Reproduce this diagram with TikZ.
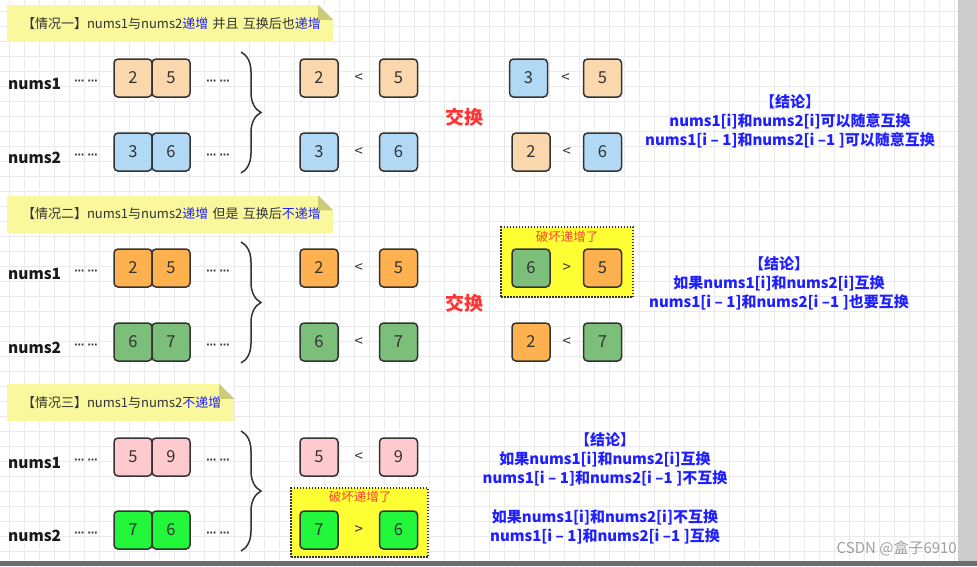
\documentclass[tikz,border=0pt]{standalone}
\usepackage{fontspec}
\setmainfont{Noto Sans CJK SC}
\newfontfamily\dotfont{DejaVu Sans}
\usepackage{xcolor}
\usetikzlibrary{positioning,calc,decorations.pathreplacing}

\definecolor{ink}{HTML}{333333}
\definecolor{gridline}{HTML}{EAEAEA}
\definecolor{notefill}{HTML}{F9F89D}
\definecolor{notefold}{HTML}{CCCB78}
\definecolor{hiyellow}{HTML}{FFFF33}
\definecolor{peach}{HTML}{FAD7AC}
\definecolor{skyblue}{HTML}{B1D9F5}
\definecolor{deeporange}{HTML}{FFB14F}
\definecolor{leaf}{HTML}{7BBF7B}
\definecolor{rose}{HTML}{FFCACD}
\definecolor{neon}{HTML}{22F73C}
\definecolor{txtblue}{HTML}{1F1FFF}
\definecolor{txtred}{HTML}{FF3333}
\definecolor{brokenred}{HTML}{FF4530}

\begin{document}
\begin{tikzpicture}[x=1pt, y=-1pt,
    numbox/.style={rectangle, draw=ink, line width=1.5pt, rounded corners=4pt, minimum width=38pt, minimum height=38pt, inner sep=0pt, text=ink, font=\fontsize{16.5}{18}\selectfont},
    arrname/.style={anchor=west, inner sep=0pt, text=black!90, font=\fontsize{15.5}{18}\selectfont\bfseries},
    dots/.style={inner sep=0pt, text=ink, font=\dotfont\fontsize{10}{12}\selectfont\bfseries},
    cmp/.style={inner sep=0pt, text=ink, font=\fontsize{15}{16}\selectfont},
    note/.style={fill=notefill, text width=296pt, inner xsep=15pt, minimum height=37pt, align=left, text=ink, font=\fontsize{13}{15}\selectfont},
    swap/.style={text=txtred, font=\fontsize{19}{22}\selectfont\bfseries},
    verdict/.style={align=center, text=txtblue, font=\fontsize{15}{19}\selectfont\bfseries},
    broken/.style={inner sep=0pt, text=brokenred, font=\fontsize{12.5}{14}\selectfont},
    hilite/.style={rectangle, fill=hiyellow, draw=ink, line width=1.5pt, dash pattern=on 1.5pt off 1.5pt}]

    \useasboundingbox (0,0) rectangle (977,566);
    \fill[white] (0,0) rectangle (977,566);
    \foreach \gx in {9,24,...,954} \draw[gridline, line width=0.8pt] (\gx,0) -- (\gx,561);
    \foreach \gy in {11,26,...,556} \draw[gridline, line width=0.8pt] (0,\gy) -- (958,\gy);
    \fill[gray!40] (958,0) rectangle (977,566);
    \fill[gray!85!black] (0,561) rectangle (977,566);

    \node (note1) [note] at (170,23.5) {【情况一】nums1与nums2\textcolor{txtblue}{递增}~并且~互换后也\textcolor{txtblue}{递增}};
    \node (note2) [note] at (170,214) {【情况二】nums1与nums2\textcolor{txtblue}{递增}~但是~互换后\textcolor{txtblue}{不递增}};
    \node (note3) [note, text width=197pt] at (120.5,402.5) {【情况三】nums1与nums2\textcolor{txtblue}{不递增}};
    \foreach \n in {note1,note2,note3} {
        \fill[white] (\n.north east) -- ++(-15,0) -- ++(15,15) -- cycle;
        \fill[notefold] ([xshift=-15pt]\n.north east) -- ++(0,15) -- ++(15,0) -- cycle;
    }

    \node (hilite2) [hilite, minimum width=132pt, minimum height=70pt] at (567,262) {};
    \node (hilite3) [hilite, minimum width=137pt, minimum height=69pt] at (359.5,522.5) {};

    \foreach \m/\ya/\yb/\fa/\fb/\va/\vb/\vc/\vd/\cb in {1/78/152/peach/skyblue/2/5/3/6/<, 2/268/342/deeporange/leaf/2/5/6/7/<, 3/457/530/rose/neon/5/9/7/6/>} {
        \node (label\m1) [arrname] at (8,\ya+6) {nums1};
        \node (label\m2) [arrname] at (8,\yb+6) {nums2};
        \node (left\m1a) [numbox, fill=\fa] at (133,\ya) {\va};
        \node (left\m1b) [numbox, fill=\fa, right=-1.5pt of left\m1a] {\vb};
        \node (left\m2a) [numbox, fill=\fb] at (133,\yb) {\vc};
        \node (left\m2b) [numbox, fill=\fb, right=-1.5pt of left\m2a] {\vd};
        \node (dots\m1l) [dots] at (86,\ya+4) {⋯ ⋯};
        \node (dots\m1r) [dots] at (218,\ya+4) {⋯ ⋯};
        \node (dots\m2l) [dots] at (86,\yb+4) {⋯ ⋯};
        \node (dots\m2r) [dots] at (218,\yb+4) {⋯ ⋯};
        \coordinate (brace\m t) at (241,\ya-26);
        \coordinate (brace\m b) at (241,\yb+21);
        \draw[ink, line width=1.5pt, decorate, decoration={brace, amplitude=20pt}] (brace\m t) -- (brace\m b);
        \node (cmp\m1a) [numbox, fill=\fa] at (319,\ya) {\va};
        \node (cmp\m1b) [numbox, fill=\fa, right=40pt of cmp\m1a] {\vb};
        \node (sym\m1) [cmp] at ($(cmp\m1a)!0.5!(cmp\m1b)$) {<};
        \node (cmp\m2a) [numbox, fill=\fb] at (319,\yb) {\vc};
        \node (cmp\m2b) [numbox, fill=\fb, right=40pt of cmp\m2a] {\vd};
        \node (sym\m2) [cmp] at ($(cmp\m2a)!0.5!(cmp\m2b)$) {\cb};
    }

    \node (swap1) [swap] at (464,117) {交换};
    \node (sw11a) [numbox, fill=skyblue] at (528.5,78) {3};
    \node (sw11b) [numbox, fill=peach] at (602.5,78) {5};
    \node (swsym11) [cmp] at ($(sw11a)!0.5!(sw11b)$) {<};
    \node (sw12a) [numbox, fill=peach] at (531,152) {2};
    \node (sw12b) [numbox, fill=skyblue] at (602.5,152) {6};
    \node (swsym12) [cmp] at ($(sw12a)!0.5!(sw12b)$) {<};

    \node (swap2) [swap] at (464,303) {交换};
    \node (broken2) [broken] at (567,237) {破坏递增了};
    \node (sw21a) [numbox, fill=leaf] at (531,268) {6};
    \node (sw21b) [numbox, fill=deeporange] at (602.5,268) {5};
    \node (swsym21) [cmp] at ($(sw21a)!0.5!(sw21b)$) {>};
    \node (sw22a) [numbox, fill=deeporange] at (531,342) {2};
    \node (sw22b) [numbox, fill=leaf] at (602.5,342) {7};
    \node (swsym22) [cmp] at ($(sw22a)!0.5!(sw22b)$) {<};

    \node (broken3) [broken] at (360,497) {破坏递增了};

    \node (verdict1) [verdict] at (790,121) {【结论】\\nums1[i]和nums2[i]可以随意互换\\nums1[i – 1]和nums2[i –1 ]可以随意互换};
    \node (verdict2) [verdict] at (779,283) {【结论】\\如果nums1[i]和nums2[i]互换\\nums1[i – 1]和nums2[i –1 ]也要互换};
    \node (verdict3) [verdict] at (605,488.5) {【结论】\\如果nums1[i]和nums2[i]互换\\nums1[i – 1]和nums2[i –1 ]不互换\\[20pt]如果nums1[i]和nums2[i]不互换\\nums1[i – 1]和nums2[i –1 ]互换};

    \node (mark) [anchor=east, inner sep=0pt, text=gray!75, font=\fontsize{15}{18}\selectfont] at (957,548) {CSDN @盒子6910};
\end{tikzpicture}
\end{document}
